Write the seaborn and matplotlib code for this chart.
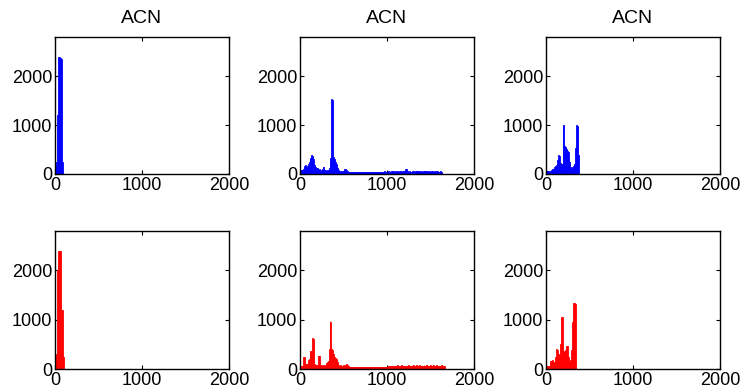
import numpy as np
import pandas as pd
import matplotlib
matplotlib.use("Agg")
import matplotlib.pyplot as plt
import seaborn as sns

# ---- data: histogram counts, bin width 10, starting at 0 ----
bin_width = 10
titles = ["ACN", "ACN", "ACN", "", "", ""]
colors = ["#0000FF", "#0000FF", "#0000FF", "#FF0000", "#FF0000", "#FF0000"]

counts_top_left = [150, 250, 1200, 1200, 2400, 2400, 2380, 2350, 250]

counts_top_mid = [
    80, 80, 90, 70, 100, 160, 180, 150, 170, 210,
    250, 300, 320, 380, 360, 300, 180, 140, 120, 110,
    120, 90, 100, 70, 90, 110, 150, 140, 90, 80,
    70, 90, 80, 120, 250, 330, 1540, 1520, 340, 300,
    250, 200, 150, 130, 90, 70, 60, 50, 60, 70,
    90, 100, 100, 90, 70, 50, 45, 40, 40, 40,
    45, 40, 40, 40, 45, 40, 40, 45, 40, 40,
    40, 45, 40, 40, 40, 45, 50, 40, 40, 45,
    40, 50, 40, 45, 40, 40, 45, 40, 50, 40,
    40, 45, 50, 40, 45, 40, 50, 60, 50, 45,
    50, 60, 50, 55, 50, 60, 70, 55, 50, 60,
    50, 55, 60, 50, 70, 60, 50, 55, 60, 50,
    55, 110, 100, 60, 50, 55, 60, 50, 50, 60,
    55, 50, 60, 55, 50, 60, 70, 55, 50, 60,
    50, 55, 60, 70, 60, 55, 50, 55, 60, 50,
    50, 70, 60, 50, 55, 50, 60, 50, 55, 50,
    50, 55, 50,
]

counts_top_right = [
    70, 70, 60, 40, 40, 60, 80, 100, 110, 150,
    160, 150, 180, 280, 380, 360, 230, 200, 200, 1000,
    1000, 580, 560, 520, 480, 450, 300, 250, 150, 100,
    140, 160, 200, 530, 560, 1000, 990, 380,
]

counts_bot_left = [250, 300, 2000, 2000, 2400, 2400, 2400, 1200, 1200, 250]

counts_bot_mid = [
    60, 60, 60, 70, 250, 240, 100, 100, 110, 180,
    200, 340, 370, 360, 630, 610, 100, 80, 80, 70,
    90, 270, 260, 90, 80, 70, 80, 90, 70, 80,
    130, 150, 160, 400, 970, 950, 400, 380, 300, 250,
    220, 200, 160, 150, 80, 70, 80, 60, 70, 80,
    70, 60, 90, 100, 90, 60, 45, 40, 40, 40,
    40, 45, 40, 40, 40, 40, 45, 40, 40, 40,
    40, 40, 45, 40, 40, 40, 40, 45, 40, 40,
    40, 40, 40, 45, 40, 40, 40, 40, 40, 45,
    40, 40, 40, 40, 45, 40, 40, 40, 40, 45,
    50, 60, 55, 60, 70, 60, 65, 60, 70, 65,
    60, 70, 80, 65, 70, 60, 75, 65, 60, 70,
    65, 60, 70, 65, 75, 60, 65, 70, 60, 65,
    75, 70, 65, 80, 90, 70, 65, 75, 70, 60,
    65, 70, 80, 65, 70, 75, 60, 70, 65, 80,
    70, 65, 60, 75, 70, 65, 80, 70, 65, 60,
    70, 65, 75, 60, 70, 65, 60,
]

counts_bot_right = [
    60, 60, 60, 60, 60, 170, 160, 180, 150, 140,
    250, 260, 400, 380, 280, 300, 500, 1050, 1050, 380,
    360, 350, 380, 470, 460, 250, 100, 150, 180, 380,
    950, 1330, 1340, 1320, 60,
]

all_counts = [counts_top_left, counts_top_mid, counts_top_right,
              counts_bot_left, counts_bot_mid, counts_bot_right]

x_ticks = [0, 1000, 2000]
y_ticks = [0, 1000, 2000]

# ---- style ----
sns.set_style("white")
plt.rcParams["font.family"] = ["Liberation Sans", "DejaVu Sans"]
plt.rcParams["text.color"] = "black"

fig = plt.figure(figsize=(7.44, 3.92), dpi=100)

W, H = 744.0, 392.0
col_lefts = [55, 300, 546]
col_width = 174
row_spans = [(37, 174), (231, 369)]

for i, counts in enumerate(all_counts):
    r, c = divmod(i, 3)
    top, bottom = row_spans[r]
    ax = fig.add_axes([col_lefts[c] / W, 1 - bottom / H,
                       col_width / W, (bottom - top) / H])
    n = len(counts)
    centers = [bin_width * k + bin_width / 2 for k in range(n)]
    df = pd.DataFrame({"x": centers, "w": counts})
    sns.histplot(data=df, x="x", weights="w", binwidth=bin_width,
                 binrange=(0, n * bin_width), element="bars",
                 fill=True, color=colors[i], edgecolor=colors[i],
                 linewidth=0.6, alpha=1.0, ax=ax)
    ax.set_xlim(0, 2000)
    ax.set_ylim(0, 2800)
    ax.set_xticks(x_ticks)
    ax.set_yticks(y_ticks)
    ax.set_xlabel("")
    ax.set_ylabel("")
    for s in ax.spines.values():
        s.set_visible(True)
        s.set_color("black")
        s.set_linewidth(1.0)
    ax.tick_params(direction="in", length=3, width=0.8, labelsize=13,
                   top=True, right=True, bottom=True, left=True, pad=2,
                   colors="black")
    if titles[i]:
        ax.set_title(titles[i], fontsize=14, pad=10, color="black")

fig.savefig("out.png", dpi=100)
